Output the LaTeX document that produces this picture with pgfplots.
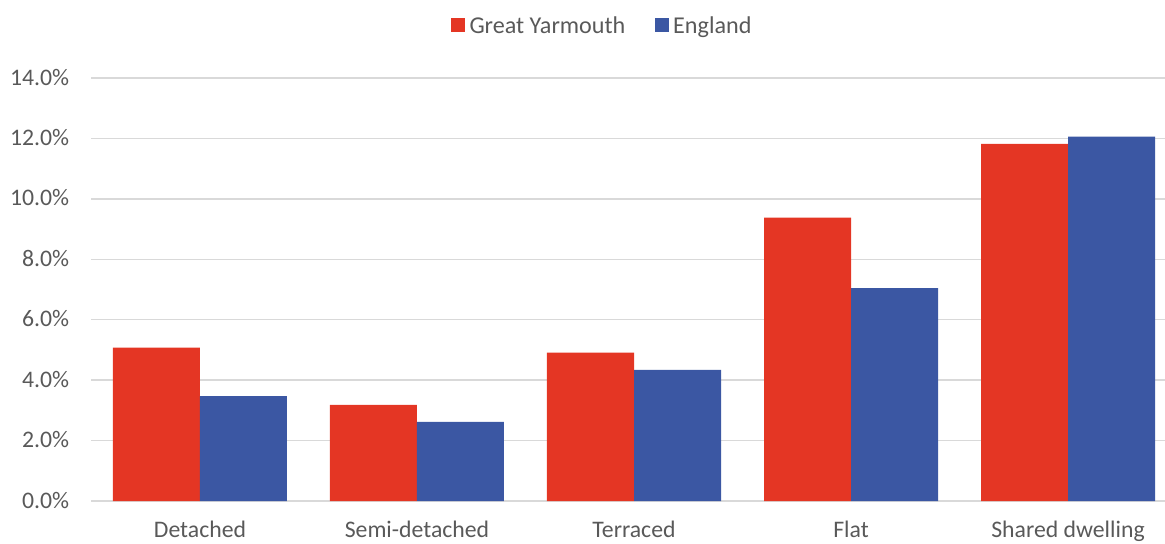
\documentclass[border=0pt]{standalone}
\usepackage{pgfplots}
\pgfplotsset{compat=1.18}
\usepackage{fontspec}
\setmainfont{Carlito}
\definecolor{gyred}{RGB}{228,54,36}
\definecolor{engblue}{RGB}{59,87,163}
\definecolor{gridgray}{RGB}{217,217,217}
\definecolor{txtgray}{RGB}{89,89,89}
\begin{document}
\fontsize{17.8}{21}\selectfont
\begin{tikzpicture}
\useasboundingbox (-68.6pt,-31.5pt) rectangle (805.1pt,375.75pt);
\begin{axis}[
  at={(0pt,0pt)}, anchor=south west,
  scale only axis, width=813.75pt, height=317.25pt,
  ybar=0pt, bar width=65.25pt,
  xmin=-0.5, xmax=4.5, ymin=0, ymax=14,
  xtick={0,1,2,3,4},
  xticklabels={Detached,Semi-detached,Terraced,Flat,Shared dwelling},
  ytick={0,2,4,6,8,10,12,14},
  yticklabels={0.0\%,2.0\%,4.0\%,6.0\%,8.0\%,10.0\%,12.0\%,14.0\%},
  ymajorgrids, major grid style={draw=gridgray, line width=1.1pt},
  axis line style={draw=none},
  major tick length=0pt,
  tick label style={text=txtgray, font=\fontsize{17.8}{21}\selectfont},
  xticklabel style={anchor=base, yshift=-27.5pt},
  yticklabel style={anchor=base east, xshift=-16.5pt, yshift=-5.25pt, inner sep=0pt},
  legend columns=2,
  legend style={draw=none, fill=none, at={(0.4719,1.1206)}, anchor=center,
    font=\fontsize{18.1}{21}\selectfont, text=txtgray,
    /tikz/every even column/.append style={column sep=19pt},
    nodes={inner xsep=3.2pt, inner ysep=2pt}},
  legend image code/.code={\fill[#1] (0pt,-3.6pt) rectangle (10.5pt,6.6pt);},
]
\addplot[fill=gyred, draw=none] coordinates {(0,5.08) (1,3.18) (2,4.91) (3,9.38) (4,11.82)};
\addplot[fill=engblue, draw=none] coordinates {(0,3.47) (1,2.62) (2,4.34) (3,7.05) (4,12.06)};
\legend{Great Yarmouth, England}
\end{axis}
\end{tikzpicture}
\end{document}
